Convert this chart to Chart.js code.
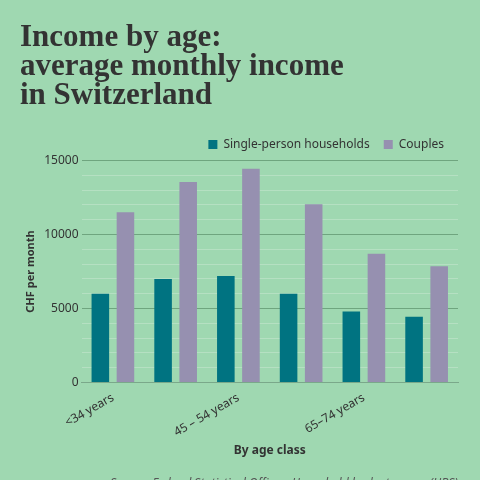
<!DOCTYPE html>
<html><head><meta charset="utf-8">
<script src="https://cdn.jsdelivr.net/npm/chart.js@4"></script>
<style>html,body{margin:0;padding:0;background:#9fd8b1;}canvas{display:block}</style>
</head><body>
<div style="width:480px;height:480px"><canvas id="c"></canvas></div>
<script>
const categories = [["<34 years"],["35 – 44 years"],["45 – 54 years"],["55 – 64 years"],["65–74 years"],["75 years","or <"]];
const singles = [6000, 7000, 7200, 6000, 4800, 4450];
const couples = [11500, 13550, 14450, 12050, 8700, 7850];
const bg = {id:'bg',beforeDraw(c){const x=c.ctx;x.save();x.fillStyle='#9fd8b1';x.fillRect(0,0,c.width,c.height);x.restore();}};
const src = {id:'src',afterDraw(c){const x=c.ctx;x.save();x.fillStyle='#555';x.font='italic 12px "Noto Sans",sans-serif';x.textAlign='right';x.fillText('Source: Federal Statistical Office – Household budget survey (HBS)',458,484);x.restore();}};
new Chart(document.getElementById('c'),{
 type:'bar',
 data:{labels:categories,datasets:[
  {label:'Single-person households',data:singles,backgroundColor:'#007381',barPercentage:0.7,categoryPercentage:0.8},
  {label:'Couples',data:couples,backgroundColor:'#9690b0',barPercentage:0.7,categoryPercentage:0.8}]},
 plugins:[bg,src],
 options:{responsive:true,maintainAspectRatio:false,animation:false,devicePixelRatio:1,
  layout:{padding:{left:20,right:22,top:14,bottom:18}},
  plugins:{
   title:{display:true,align:'start',text:['Income by age:','average monthly income','in Switzerland'],color:'#333',font:{family:'"Liberation Serif",serif',size:31,weight:'bold',lineHeight:0.93},padding:{top:10,bottom:14}},
   legend:{align:'end',labels:{boxWidth:9,boxHeight:9,color:'#333',font:{family:'"Noto Sans",sans-serif',size:12},padding:14}},
   tooltip:{enabled:false}},
  scales:{
   x:{grid:{display:false},border:{color:'#7aa88a'},ticks:{color:'#333',font:{family:'"Noto Sans",sans-serif',size:12},minRotation:30,maxRotation:30,padding:0},
      title:{display:true,text:'By age class',color:'#333',font:{family:'"Noto Sans",sans-serif',size:12,weight:'bold'},padding:{top:4}}},
   y:{min:0,max:15000,ticks:{stepSize:1000,autoSkip:false,color:'#333',font:{family:'"Noto Sans",sans-serif',size:12},callback:v=>v%5000===0?v:''},
      grid:{color:c=>c.tick&&c.tick.value%5000===0?'#6fa57f':'#b5e0c2',drawTicks:false},border:{display:false},
      title:{display:true,text:'CHF per month',color:'#333',font:{family:'"Noto Sans",sans-serif',size:11,weight:'bold'}}}}
 }});
</script></body></html>
